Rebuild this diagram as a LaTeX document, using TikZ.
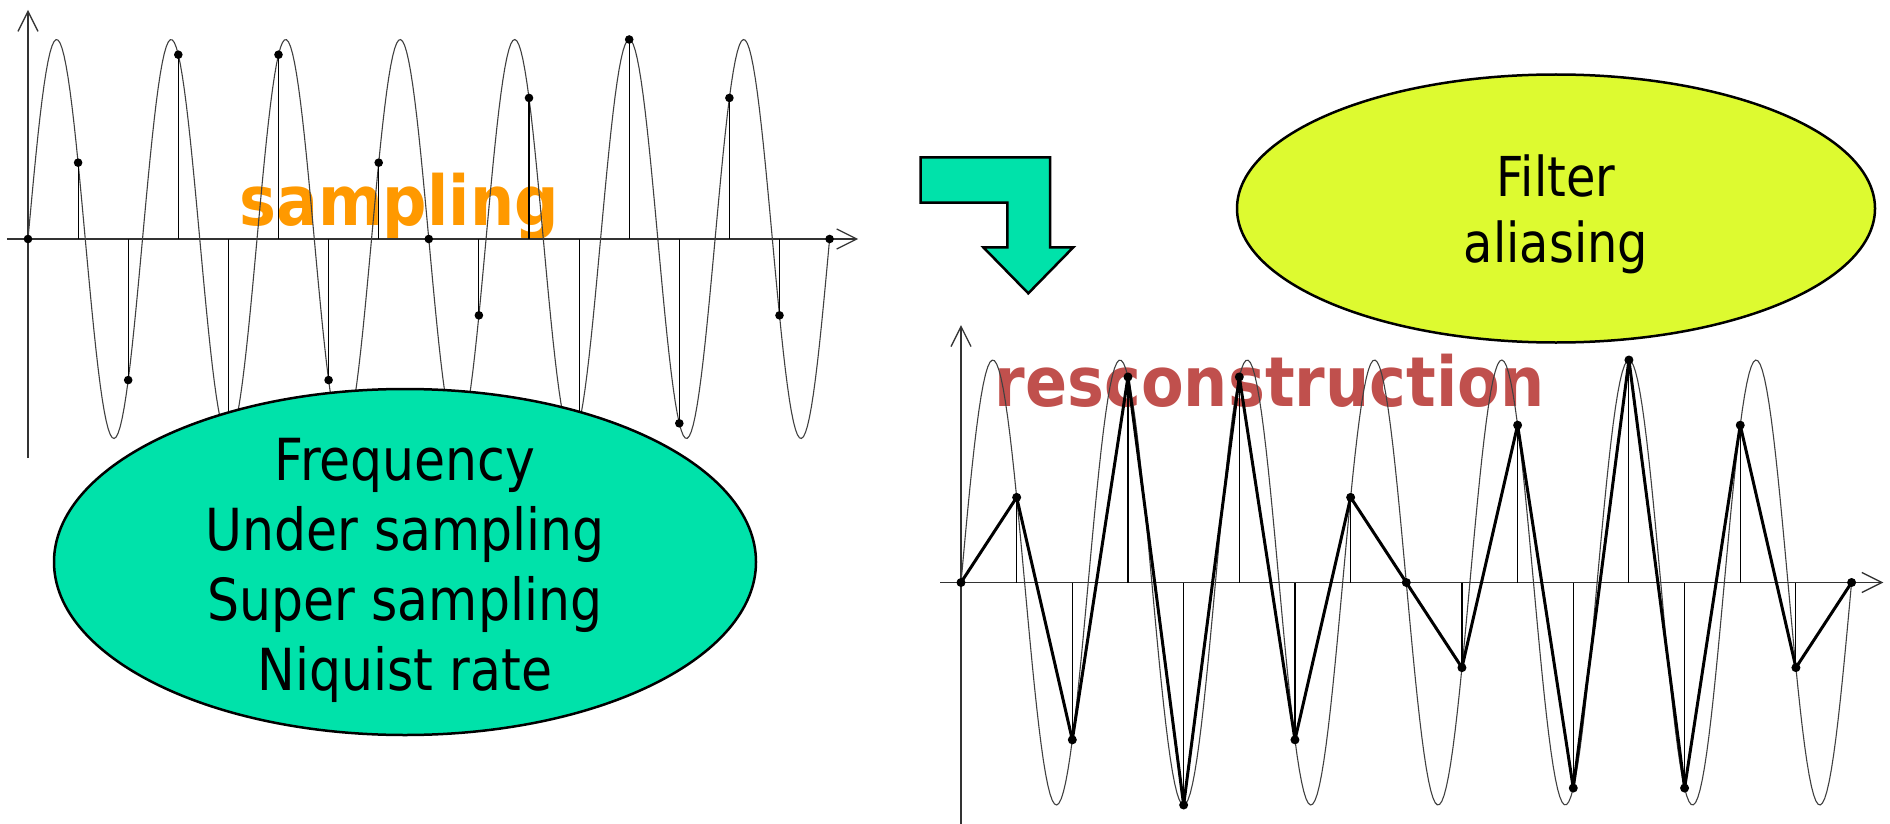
\documentclass[tikz,border=0pt]{standalone}
\usepackage{fontspec}
\usepackage{tikz}
\usetikzlibrary{arrows.meta,shapes.geometric}
\newfontfamily\bullefont{DejaVu Sans}[FakeStretch=0.87]
\newfontfamily\titrefont{DejaVu Sans}[FakeStretch=0.9]
\definecolor{cturquoise}{RGB}{0,226,170}
\definecolor{cjaune}{RGB}{221,250,48}
\definecolor{corange}{RGB}{255,153,0}
\definecolor{crouge}{RGB}{192,80,77}

\begin{document}
\begin{tikzpicture}[x=1pt, y=-1pt, >={Straight Barb[length=20pt,width=20pt]},
  axe/.style={->, line width=1.3pt, black!80},
  onde/.style={line width=1.1pt, black!75},
  tige/.style={line width=1.1pt},
  trace/.style={line width=3pt, line join=round},
  bulle/.style={ellipse, draw, line width=2.5pt, inner sep=0pt},
  bulletexte/.style={align=center, text depth=0pt, inner sep=0pt,
    font=\bullefont\fontsize{58}{70}\selectfont},
  titre/.style={anchor=base, inner sep=0pt, font=\titrefont\bfseries\fontsize{69}{80}\selectfont}]
\useasboundingbox (0,0) rectangle (1890,824);
\node[titre, text=corange] (samp) at (399,225) {sampling};
\node[titre, text=crouge] (recon) at (1269.5,406.7) {resconstruction};
\begin{scope}[shift={(28,239)}, x=50.1pt, y=199.5pt]
  \draw[axe] (-0.42,0) -- (16.57,0);
  \draw[axe] (0,-1.098) -- (0,1.148);
  \draw[onde] plot[domain=0:16, samples=401] (\x,{sin(157.5*\x)});
  \foreach \n in {1,...,16} \draw[tige] (\n,0) -- (\n,{sin(157.5*\n)});
  \foreach \n in {0,...,16} \fill (\n,{sin(157.5*\n)}) circle (4.3pt);
\end{scope}
\begin{scope}[shift={(961,582.5)}, x=55.66pt, y=222.5pt]
  \draw[axe] (-0.377,0) -- (16.57,0);
  \draw[axe] (0,-1.085) -- (0,1.157);
  \draw[onde] plot[domain=0:16, samples=401] (\x,{sin(157.5*\x)});
  \foreach \n in {1,...,16} \draw[tige] (\n,0) -- (\n,{sin(157.5*\n)});
  \draw[trace] plot[samples at={0,...,16}] (\x,{sin(157.5*\x)});
  \foreach \n in {0,...,16} \fill (\n,{sin(157.5*\n)}) circle (4.5pt);
\end{scope}
\node[bulle, fill=cturquoise, minimum width=702pt, minimum height=346pt] (freq) at (405,562) {};
\node[bulletexte] (freqtxt) at (405,564)
  {Frequency\\Under sampling\\Super sampling\\Niquist rate};
\node[bulle, fill=cjaune, minimum width=638pt, minimum height=268pt] (filtre) at (1556,208.5) {};
\node[bulletexte, font=\bullefont\fontsize{55}{66}\selectfont] (filtretxt) at (filtre.center)
  {Filter\\aliasing};
\draw[fill=cturquoise, line width=2.5pt, line join=miter]
  (920.7,157.3) -- (1050,157.3) -- (1050,247.3) -- (1073.3,247.3) -- (1028.3,293.3)
  -- (983.3,247.3) -- (1007.3,247.3) -- (1007.3,202.7) -- (920.7,202.7) -- cycle;
\end{tikzpicture}
\end{document}
